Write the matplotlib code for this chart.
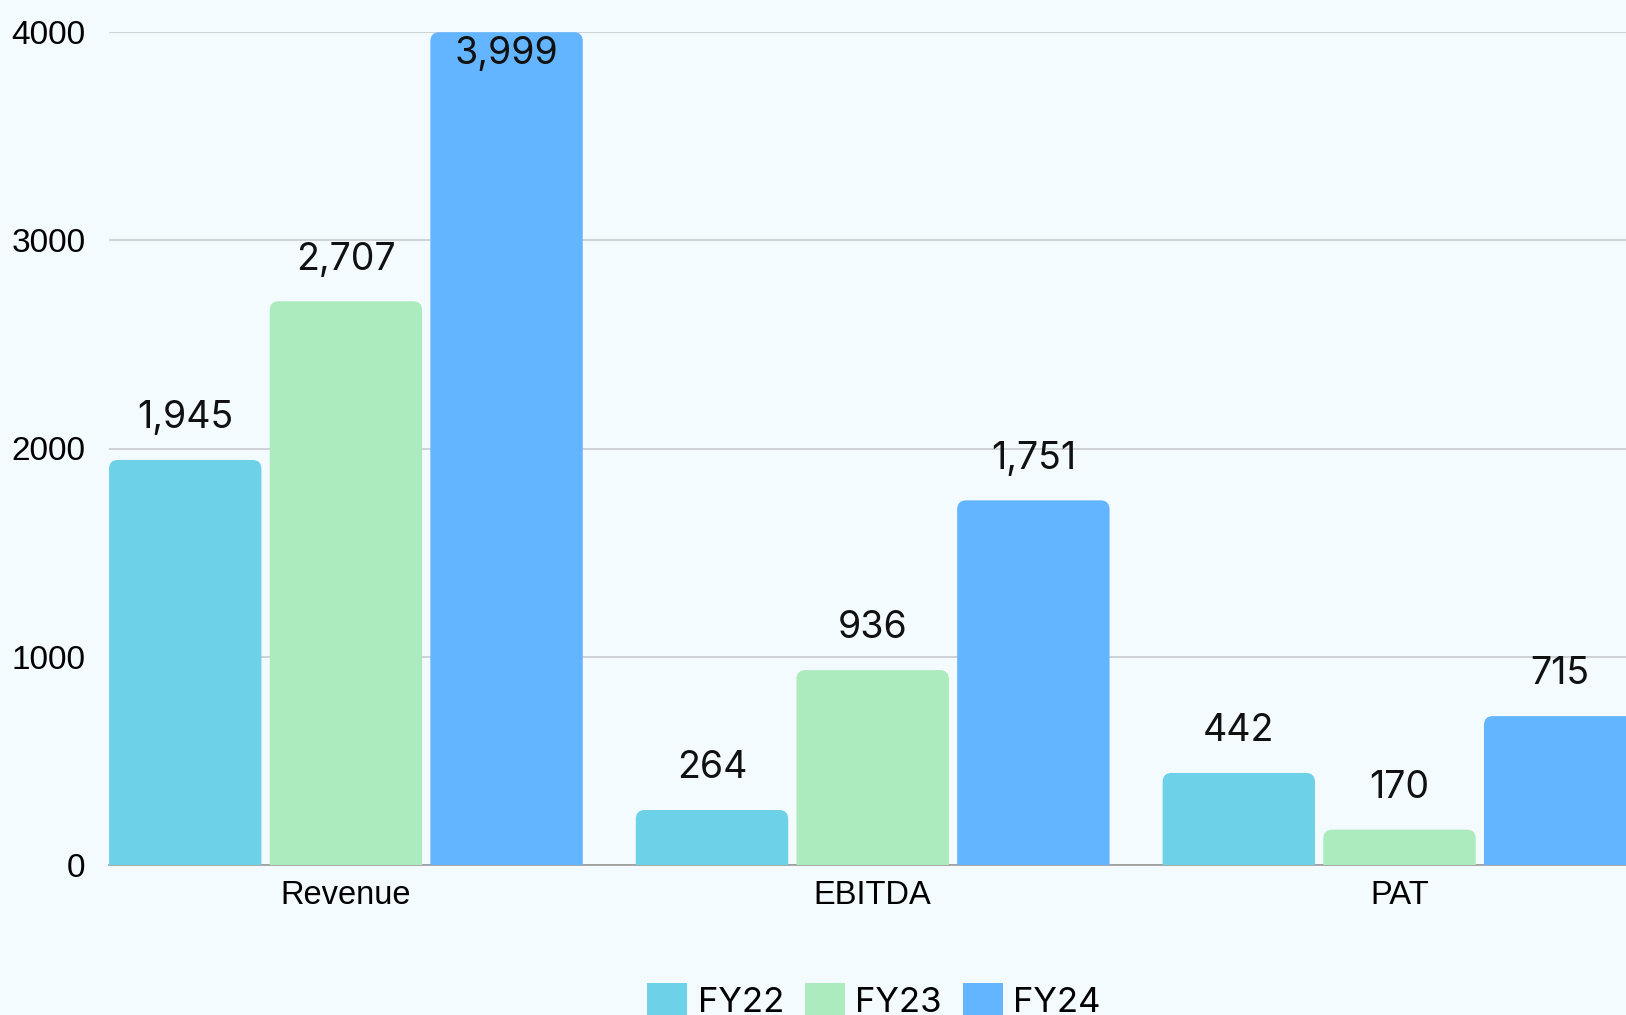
import matplotlib
matplotlib.use("Agg")
import matplotlib.pyplot as plt
from matplotlib.patches import FancyBboxPatch, Patch

categories = ["Revenue", "EBITDA", "PAT"]
series_names = ["FY22", "FY23", "FY24"]
fy22 = [1945, 264, 442]
fy23 = [2707, 936, 170]
fy24 = [3999, 1751, 715]
y_ticks = [0, 1000, 2000, 3000, 4000]

colors = ["#6dd1e8", "#acebbd", "#64b5ff"]
bg = "#f4fbff"

W, H = 1626, 1015
fig = plt.figure(figsize=(W / 100, H / 100), dpi=100, facecolor=bg)
ax = fig.add_axes([109 / W, (H - 865) / H, 1 - 109 / W, (865 - 32) / H])
ax.set_facecolor(bg)

bar_w = 0.2893
step = 0.305
xlim = (-0.4497, 2.43)
ylim = (0, 4000)
ax.set_xlim(*xlim)
ax.set_ylim(*ylim)

# pixel scales for rounding
px_per_x = (W - 109) / (xlim[1] - xlim[0])
px_per_y = (865 - 32) / (ylim[1] - ylim[0])
r_px = 9
rx = r_px / px_per_x
aspect = (r_px / px_per_y) / rx

all_series = [fy22, fy23, fy24]
xs = list(range(len(categories)))
for i, (vals, col) in enumerate(zip(all_series, colors)):
    pos = [x + (i - 1) * step for x in xs]
    bars = ax.bar(pos, vals, width=bar_w, color=col, zorder=3)
    for b, v in zip(bars, vals):
        b.set_visible(False)
        x0 = b.get_x()
        ry = rx * aspect
        p = FancyBboxPatch((x0, -ry), b.get_width(), b.get_height() + ry,
                           boxstyle=f"round,pad=0,rounding_size={rx}",
                           mutation_aspect=aspect, facecolor=col,
                           edgecolor="none", zorder=3, clip_on=True)
        ax.add_patch(p)
        cx = x0 + b.get_width() / 2
        top_px = (ylim[1] - v) * px_per_y
        if top_px < 60:
            ax.annotate(f"{v:,}", (cx, ylim[1]), xytext=(0, -3), textcoords="offset points",
                        ha="center", va="top", fontsize=27, family="Inter", color="#111111",
                        zorder=5)
        else:
            ax.annotate(f"{v:,}", (cx, v), xytext=(0, 17), textcoords="offset points",
                        ha="center", va="bottom", fontsize=27, family="Inter", color="#111111",
                        zorder=5)

ax.set_yticks(y_ticks)
ax.set_yticklabels([str(t) for t in y_ticks], fontsize=24, family="Liberation Sans")
ax.set_xticks(xs)
ax.set_xticklabels(categories, fontsize=23.5, family="Liberation Sans")
ax.tick_params(axis="y", length=0, pad=17)
ax.tick_params(axis="x", length=0, pad=11)
ax.grid(axis="y", color="#c8ccd0", linewidth=1.2, zorder=0)
for s in ["top", "right", "left"]:
    ax.spines[s].set_visible(False)
ax.spines["bottom"].set_color("#999999")
ax.spines["bottom"].set_linewidth(1.2)
ax.spines["bottom"].set_zorder(2)

handles = [Patch(facecolor=c, edgecolor="none") for c in colors]
fig.legend(handles, series_names, loc="upper center", bbox_to_anchor=(874 / W, 1 - 966 / H),
           ncol=3, frameon=False, prop={"family": "Inter", "size": 25},
           handlelength=1.15, handleheight=1.1, handletextpad=0.3, columnspacing=0.6,
           borderpad=0.0)

fig.savefig("out.png", dpi=100, facecolor=bg)
